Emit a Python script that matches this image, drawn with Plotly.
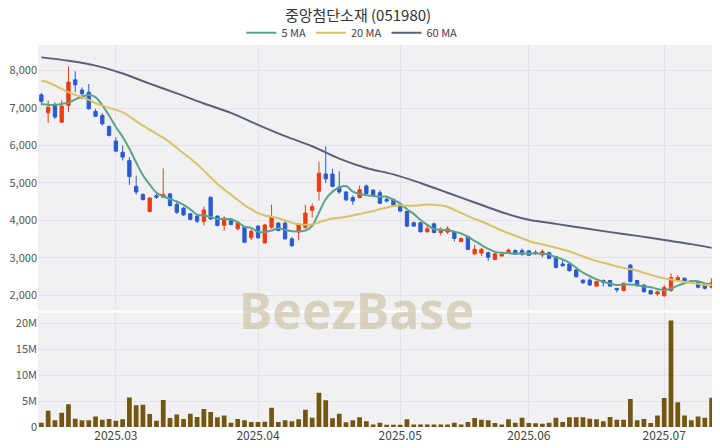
import plotly.graph_objects as go
from plotly.subplots import make_subplots
import pandas as pd

dates = (
    ["2025-02-%02d" % d for d in [14, 17, 18, 19, 20, 21, 24, 25, 26, 27, 28]]
    + ["2025-03-%02d" % d for d in [3, 4, 5, 6, 7, 10, 11, 12, 13, 14, 17, 18, 19, 20, 21, 24, 25, 26, 27, 28, 31]]
    + ["2025-04-%02d" % d for d in [1, 2, 3, 4, 7, 8, 9, 10, 11, 14, 15, 16, 17, 18, 21, 22, 23, 24, 25, 28, 29]]
    + ["2025-05-%02d" % d for d in [2, 7, 8, 9, 12, 13, 14, 15, 16, 19, 20, 21, 22, 23, 26, 27, 28, 29, 30]]
    + ["2025-06-%02d" % d for d in [2, 3, 4, 5, 9, 10, 11, 12, 13, 16, 17, 18, 19, 20, 23, 24, 25, 26, 27, 30]]
    + ["2025-07-%02d" % d for d in [1, 2, 3, 4, 7, 8, 9, 10]]
)

open_ = [7350, 6870, 7070, 6620, 7070, 7750, 7480, 7420, 6910, 6800,
         6510, 6120, 5820, 5600, 4910, 4690, 4240, 4660, 4620, 4710,
         4430, 4330, 4180, 4120, 3980, 4620, 4120, 3870, 4040, 3780,
         3820, 3540, 3850, 3400, 3820, 3930, 3930, 3510, 3690, 3820,
         4270, 4780, 5240, 5240, 4890, 4760, 4610, 4610, 4920, 4810,
         4740, 4560, 4560, 4410, 4240, 3940, 3940, 3700, 3910, 3680,
         3690, 3700, 3440, 3570, 3110, 3130, 3140, 2960, 3050, 3140,
         3200, 3200, 3190, 3150, 3080, 3140, 3040, 2840, 2840, 2680,
         2410, 2410, 2250, 2400, 2400, 2190, 2130, 2810, 2400, 2280,
         2130, 2040, 1990, 2130, 2400, 2460, 2390, 2350, 2280, 2220]
high = [7400, 7200, 7150, 7200, 8110, 7980, 7550, 7640, 6980, 6860,
        6530, 6220, 6000, 5690, 5200, 4730, 4620, 4710, 5390, 4730,
        4530, 4360, 4200, 4130, 4370, 4640, 4130, 4110, 4060, 3980,
        3850, 3780, 3870, 3910, 4420, 3960, 4000, 3560, 3930, 4420,
        4460, 5570, 5980, 5380, 5310, 4780, 4670, 4930, 4960, 4830,
        4810, 4610, 4590, 4460, 4260, 3970, 3960, 3880, 3940, 3820,
        3850, 3720, 3550, 3590, 3350, 3270, 3170, 3140, 3110, 3250,
        3230, 3250, 3210, 3210, 3230, 3170, 3060, 2950, 2860, 2700,
        2430, 2460, 2390, 2430, 2410, 2190, 2340, 2840, 2410, 2300,
        2150, 2130, 2280, 2590, 2550, 2480, 2410, 2370, 2310, 2460]
low = [7070, 6600, 6710, 6620, 6890, 7420, 7240, 6950, 6760, 6530,
       6240, 5820, 5600, 4950, 4690, 4530, 4220, 4580, 4620, 4370,
       4180, 4120, 4000, 3930, 3870, 4020, 3840, 3730, 3880, 3730,
       3400, 3480, 3510, 3400, 3780, 3720, 3490, 3290, 3470, 3780,
       4080, 4530, 5000, 4890, 4710, 4520, 4420, 4590, 4700, 4640,
       4440, 4480, 4370, 4230, 3820, 3840, 3680, 3680, 3660, 3600,
       3640, 3440, 3420, 3210, 3080, 3050, 2930, 2950, 3050, 3110,
       3080, 3060, 3060, 3080, 3020, 2970, 2720, 2790, 2640, 2480,
       2310, 2250, 2240, 2240, 2240, 2080, 2110, 2350, 2240, 2080,
       2030, 1990, 1970, 2100, 2380, 2350, 2330, 2190, 2160, 2190]
close = [7180, 7020, 6760, 7050, 7690, 7620, 7380, 6980, 6780, 6580,
         6270, 5850, 5690, 5170, 4760, 4560, 4600, 4620, 4690, 4400,
         4220, 4150, 4030, 3980, 4280, 4040, 3870, 4060, 3890, 3930,
         3420, 3710, 3540, 3880, 4110, 3730, 3510, 3330, 3890, 4200,
         4370, 5260, 5110, 4910, 4760, 4550, 4520, 4820, 4720, 4650,
         4460, 4520, 4410, 4250, 3850, 3850, 3700, 3780, 3680, 3760,
         3780, 3520, 3520, 3230, 3230, 3230, 3020, 3110, 3100, 3210,
         3110, 3100, 3070, 3120, 3170, 2990, 2750, 2790, 2660, 2500,
         2340, 2280, 2370, 2350, 2250, 2150, 2330, 2370, 2260, 2100,
         2040, 2100, 2210, 2480, 2480, 2370, 2350, 2220, 2190, 2340]
volume_m = [0.84, 3.15, 1.3, 2.76, 4.37, 1.6, 1.3, 1.3, 2.0, 1.4,
            1.55, 1.2, 1.5, 5.66, 4.18, 4.3, 2.5, 1.2, 5.2, 1.74,
            2.4, 1.55, 2.57, 1.93, 3.47, 2.9, 1.86, 2.2, 0.84, 1.54,
            1.3, 0.96, 0.96, 1.03, 3.73, 0.96, 1.3, 1.1, 1.5, 3.34,
            1.8, 6.6, 5.14, 1.67, 2.57, 0.9, 1.3, 1.86, 1.13, 0.5,
            0.84, 0.45, 0.45, 0.45, 1.48, 0.5, 0.5, 0.5, 0.5, 0.5,
            0.5, 0.84, 0.5, 0.96, 1.74, 1.4, 1.3, 0.77, 0.5, 1.48,
            0.84, 1.8, 0.77, 0.7, 0.64, 0.84, 1.8, 0.96, 1.86, 1.86,
            1.86, 1.6, 1.48, 1.1, 1.93, 1.4, 1.4, 5.4, 1.3, 1.55,
            0.77, 2.2, 5.6, 20.5, 4.75, 2.2, 1.3, 2.0, 1.8, 5.65]

ma5_head = [7110, 7085, 7085, 7110]
ma20_head = [7733, 7680, 7600, 7510, 7422, 7350, 7289, 7218, 7129, 7067,
             7004, 6951, 6889, 6773, 6649, 6533, 6418, 6311, 6204]
ma60_idx = [0, 4, 8, 12, 16, 20, 24, 28, 32, 36, 40, 44, 48, 52, 56, 60, 64, 68, 72, 76, 80, 84, 88, 92, 96, 99]
ma60_vals = [8350, 8260, 8130, 7920, 7650, 7390, 7120, 6870, 6550, 6250,
             5980, 5650, 5400, 5230, 5000, 4740, 4480, 4220, 4020, 3910,
             3800, 3690, 3590, 3480, 3370, 3270]

tick_dates = ["2025-03-03", "2025-04-01", "2025-05-02", "2025-06-02", "2025-07-01"]
tick_text = ["2025.03", "2025.04", "2025.05", "2025.06", "2025.07"]
price_ticks = [2000, 3000, 4000, 5000, 6000, 7000, 8000]
vol_ticks = [0, 5e6, 10e6, 15e6, 20e6]
vol_tick_text = ["0", "5M", "10M", "15M", "20M"]

cs = pd.Series(close, dtype=float)
ma5 = ma5_head + cs.rolling(5).mean().dropna().round(1).tolist()
ma20 = ma20_head + cs.rolling(20).mean().dropna().round(1).tolist()
ma60_x = [dates[i] for i in ma60_idx]
volume = [v * 1e6 for v in volume_m]

UP = "#ec3d12"
DOWN = "#2a5bd0"
GRID = "#e3e3e7"

fig = make_subplots(rows=2, cols=1, shared_xaxes=True, vertical_spacing=0.0,
                    row_heights=[0.7, 0.3])

fig.add_trace(go.Candlestick(
    x=dates, open=open_, high=high, low=low, close=close,
    increasing=dict(line=dict(color=UP, width=1), fillcolor=UP),
    decreasing=dict(line=dict(color=DOWN, width=1), fillcolor=DOWN),
    whiskerwidth=0, showlegend=False, name="price"), row=1, col=1)

fig.add_trace(go.Scatter(x=dates, y=ma5, mode="lines", name="5 MA",
                         line=dict(color="#5aa385", width=2, shape="spline")), row=1, col=1)
fig.add_trace(go.Scatter(x=dates, y=ma20, mode="lines", name="20 MA",
                         line=dict(color="#d8c265", width=2, shape="spline")), row=1, col=1)
fig.add_trace(go.Scatter(x=ma60_x, y=ma60_vals, mode="lines", name="60 MA",
                         line=dict(color="#5a5f7c", width=2, shape="spline")), row=1, col=1)

fig.add_trace(go.Bar(x=dates, y=volume, marker=dict(color="#735711", line=dict(width=0)),
                     showlegend=False, name="volume"), row=2, col=1)

# the page body has an 8px margin, so the figure is sized/positioned to compensate
fig.update_layout(
    width=712, height=440,
    margin=dict(l=30, r=5, t=37, b=21, autoexpand=False),
    paper_bgcolor="white", plot_bgcolor="#f1f1f3",
    font=dict(family="Noto Sans CJK KR, Noto Sans, sans-serif", color="#444", size=11),
    title=dict(text="중앙첨단소재 (051980)", x=0.4916, xref="container", xanchor="center",
               y=0.982, yref="container", yanchor="middle",
               font=dict(size=15, color="#333")),
    legend=dict(orientation="h", x=0.483, xref="container", xanchor="center",
                y=0.944, yref="container", yanchor="middle",
                font=dict(size=11, color="#444"), itemwidth=30,
                bgcolor="rgba(0,0,0,0)", tracegroupgap=0),
    bargap=0.3,
    xaxis_rangeslider_visible=False,
    showlegend=True,
)

fig.update_xaxes(type="category", showgrid=True, gridcolor=GRID, gridwidth=1,
                 tickvals=tick_dates, ticktext=tick_text, ticks="", showline=False,
                 zeroline=False, automargin=False, tickfont=dict(size=12, color="#444"))
fig.update_xaxes(showticklabels=False, row=1, col=1)
fig.update_xaxes(rangeslider=dict(visible=False), row=1, col=1)

fig.update_yaxes(range=[1600, 8680], tickvals=price_ticks,
                 tickformat=",", showgrid=True, gridcolor=GRID, zeroline=False, automargin=False,
                 tickfont=dict(size=11, color="#555"), row=1, col=1)
fig.update_yaxes(range=[0, 22.0e6], tickvals=vol_ticks, ticktext=vol_tick_text,
                 showgrid=True, gridcolor=GRID, zeroline=False, automargin=False,
                 tickfont=dict(size=11, color="#555"), row=2, col=1)

fig.update_layout(yaxis=dict(domain=[0.305, 1.0]), yaxis2=dict(domain=[0.0, 0.299]))

fig.add_annotation(text="<b>BeezBase</b>", xref="paper", yref="paper", x=0.471, y=0.306,
                   xanchor="center", yanchor="middle", showarrow=False,
                   font=dict(size=50, color="rgba(196,186,150,0.58)", family="Noto Sans, sans-serif"))

fig.write_html("out.html")
